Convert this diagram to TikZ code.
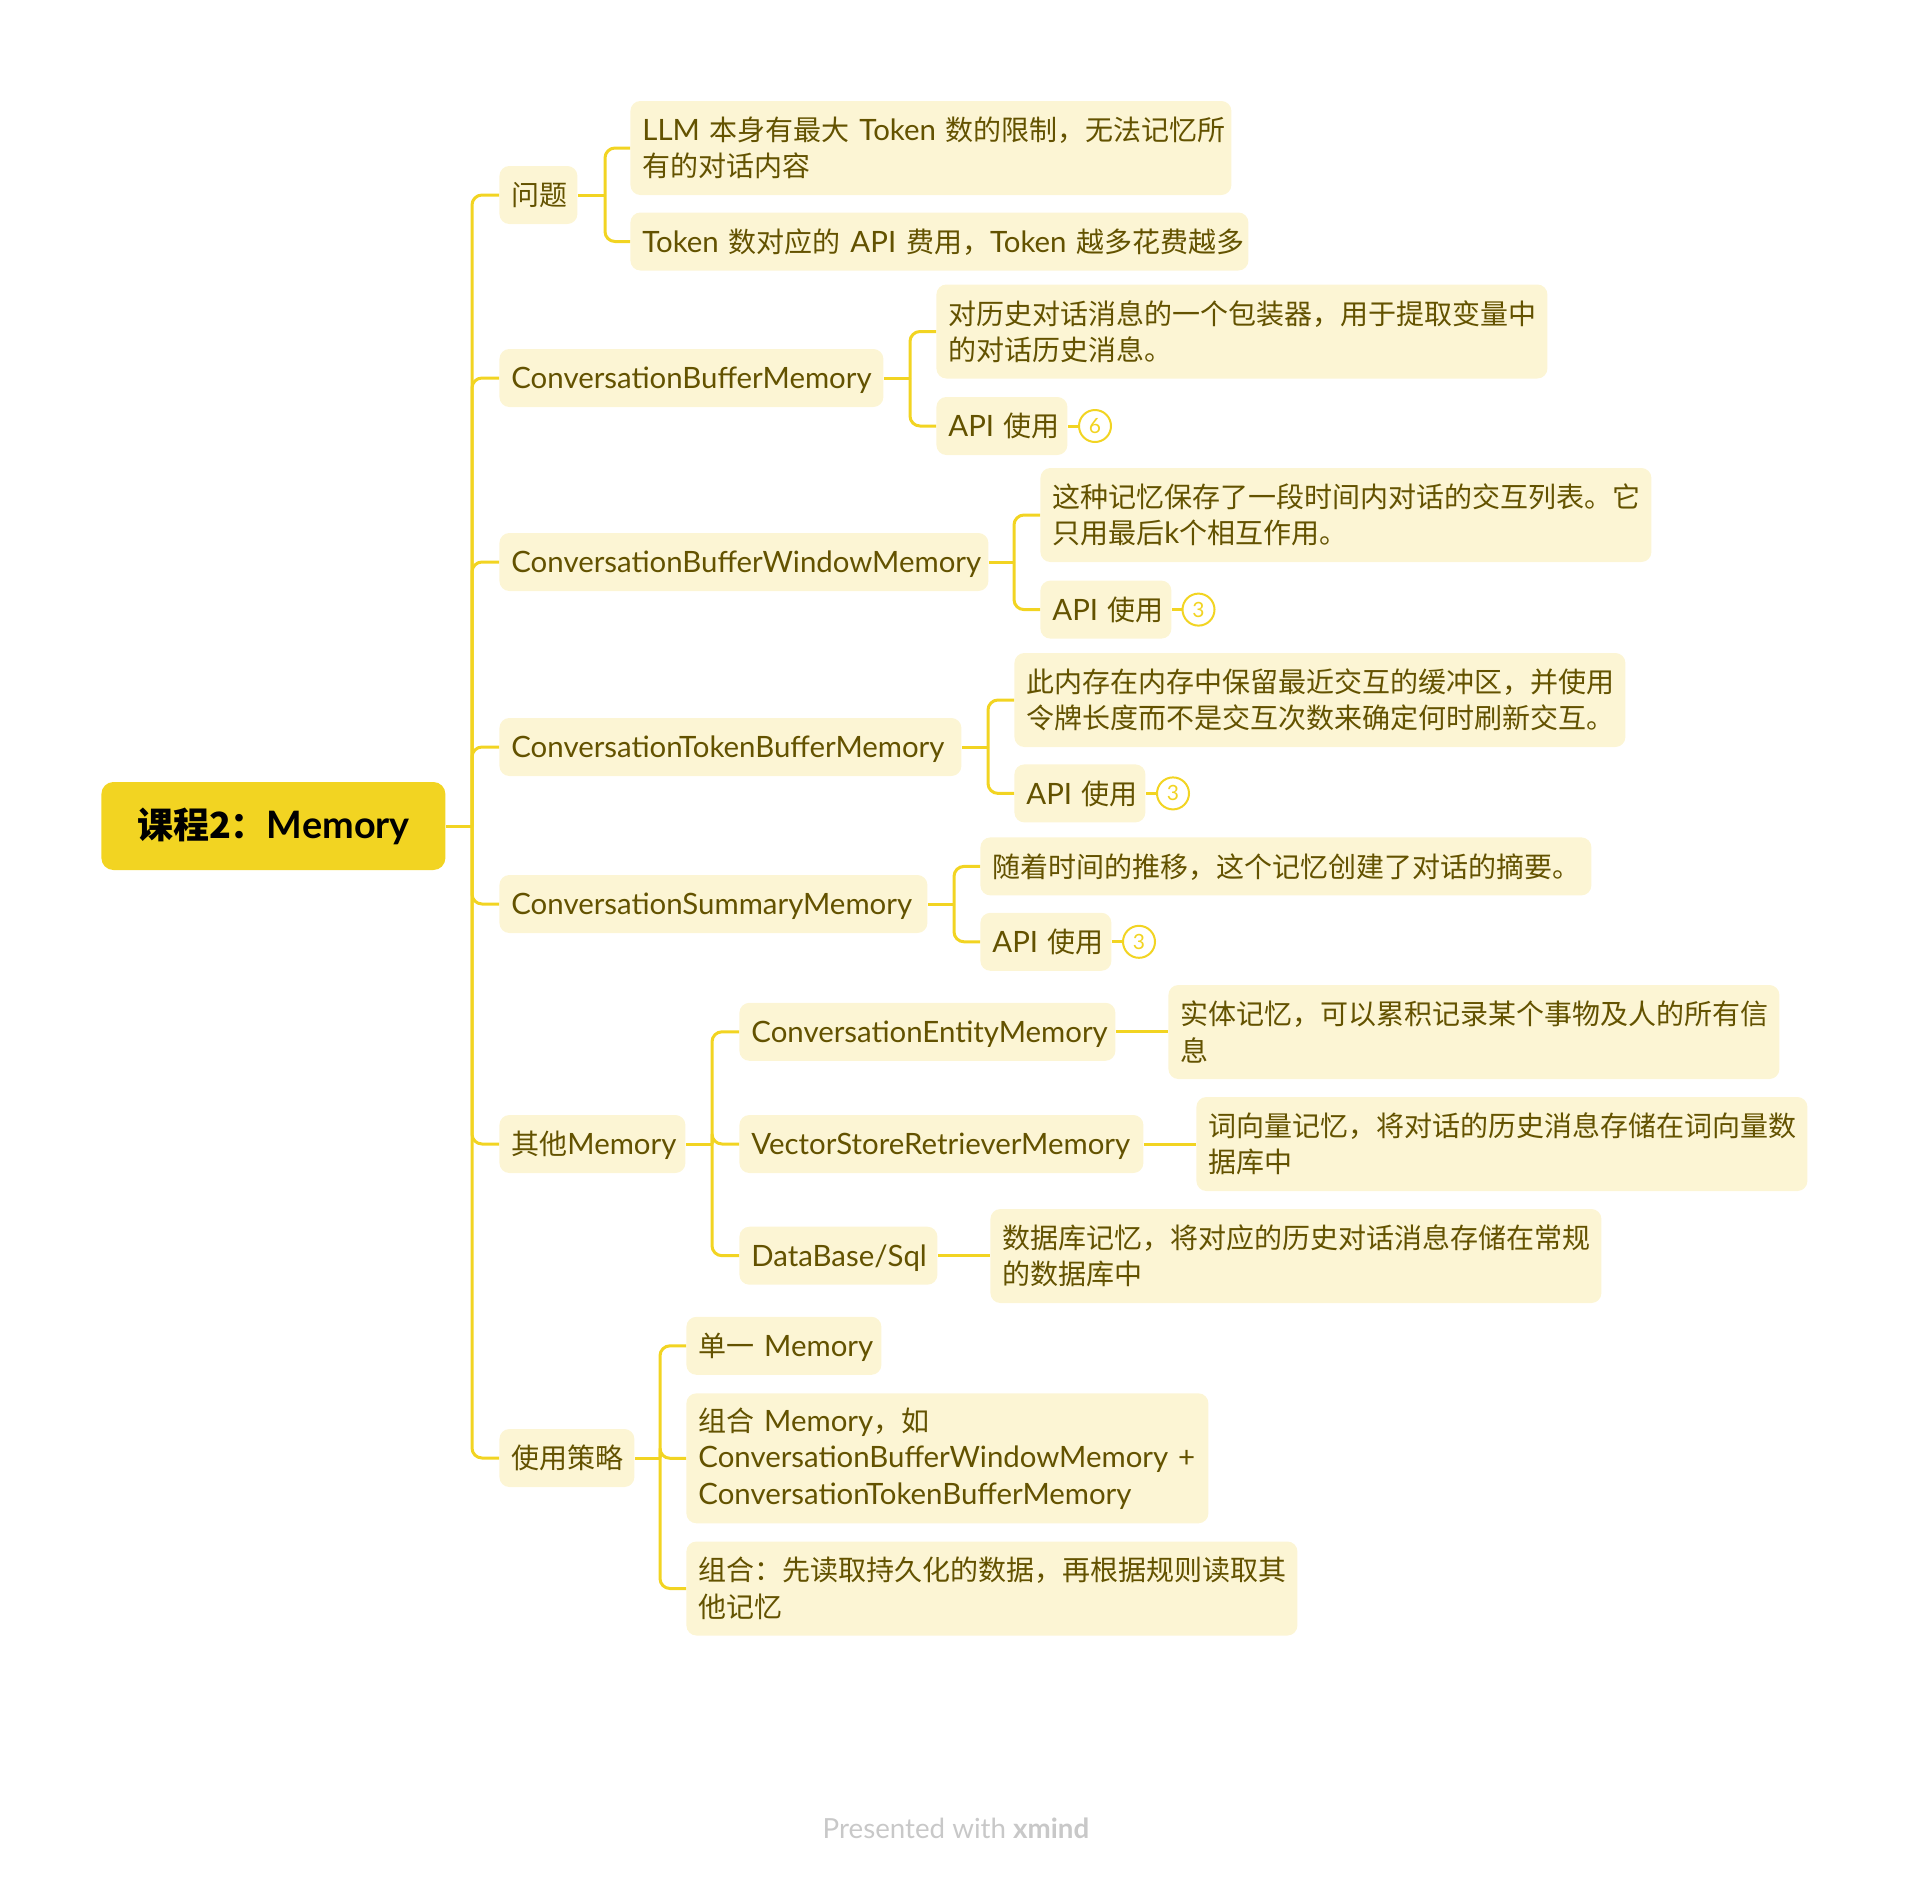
\documentclass[tikz,border=0pt]{standalone}
\usepackage{fontspec}
\setmainfont{Lato}[Scale=1.05]
\newfontfamily\cjk{Noto Sans CJK SC}
\newcommand\zh[1]{{\cjk #1}}
\definecolor{boxfill}{RGB}{252,245,212}
\definecolor{txt}{RGB}{99,82,0}
\definecolor{line}{RGB}{242,212,34}
\definecolor{rootfill}{RGB}{242,212,34}
\definecolor{footgray}{RGB}{200,200,200}
\begin{document}
\begin{tikzpicture}[x=0.5pt,y=-0.5pt,
 base/.style={fill=boxfill, rounded corners=5pt, anchor=west, text=txt, font=\fontsize{14}{18.25}\selectfont, inner xsep=6pt, inner ysep=0pt, align=left},
 box/.style={base, minimum width=#1, text width=#1-12pt, minimum height=29pt, text height=12.3pt, text depth=1.7pt},
 mbox/.style={base, minimum width=#1, text width=#1-12pt, minimum height=47pt},
 conn/.style={draw=line, line width=1.5pt, rounded corners=5pt},
 badge/.style={circle, draw=line, line width=1pt, fill=white, text=line, minimum size=16pt, inner sep=0pt, font=\fontsize{10}{10}\selectfont},
]
\useasboundingbox (0,0) rectangle (1908,1876);
% root
\node[fill=rootfill, rounded corners=6pt, anchor=west, minimum width=172pt, minimum height=44pt, font=\fontsize{18}{20}\selectfont\bfseries, text=black] (root) at (101,826) {{\cjk\bfseries 课程2：}Memory};
% level 1
\node[box=39pt] (q) at (499,195) {\mbox{\zh{问题}}};
\node[box=192pt] (cbm) at (499,378) {\mbox{ConversationBufferMemory}};
\node[box=244.5pt] (cbwm) at (499,562) {\mbox{ConversationBufferWindowMemory}};
\node[box=231pt] (ctbm) at (499,747) {\mbox{ConversationTokenBufferMemory}};
\node[box=214pt] (csm) at (499,904) {\mbox{ConversationSummaryMemory}};
\node[box=93pt] (other) at (499,1144) {\mbox{\zh{其他}Memory}};
\node[box=67.5pt] (strat) at (499,1458) {\mbox{\zh{使用策略}}};
% trunk
\coordinate (bt) at (472,826);
\draw[conn] (root.east) -- (bt);
\foreach \n in {q,cbm,cbwm,ctbm,csm,other,strat} \draw[conn] (bt) |- (\n.west);
% 问题
\node[mbox=300.5pt] (q1) at (630,148) {\mbox{LLM \zh{本身有最大} Token \zh{数的限制，无法记忆所}}\\\zh{有的对话内容}};
\node[box=309pt] (q2) at (630,241.5) {\mbox{Token \zh{数对应的} API \zh{费用，}Token \zh{越多花费越多}}};
\coordinate (bq) at (605,195);
\draw[conn] (q.east) -- (bq);
\draw[conn] (bq) |- (q1.west);
\draw[conn] (bq) |- (q2.west);
% CBM
\node[mbox=305.5pt] (cbm1) at (936,331.5) {\zh{对历史对话消息的一个包装器，用于提取变量中}\\\zh{的对话历史消息。}};
\node[box=65.5pt] (cbm2) at (936,426) {\mbox{API \zh{使用}}};
\node[badge] (cbmb) at (1095,426) {6};
\coordinate (bc1) at (910,378);
\draw[conn] (cbm.east) -- (bc1);
\draw[conn] (bc1) |- (cbm1.west);
\draw[conn] (bc1) |- (cbm2.west);
\draw[conn] (cbm2.east) -- (cbmb.west);
% CBWM
\node[mbox=305.5pt] (cbwm1) at (1040,515) {\zh{这种记忆保存了一段时间内对话的交互列表。它}\\\mbox{\zh{只用最后}k\zh{个相互作用。}}};
\node[box=65.5pt] (cbwm2) at (1040,609.6) {\mbox{API \zh{使用}}};
\node[badge] (cbwmb) at (1198.5,609.6) {3};
\coordinate (bc2) at (1014,562);
\draw[conn] (cbwm.east) -- (bc2);
\draw[conn] (bc2) |- (cbwm1.west);
\draw[conn] (bc2) |- (cbwm2.west);
\draw[conn] (cbwm2.east) -- (cbwmb.west);
% CTBM
\node[mbox=305.5pt] (ctbm1) at (1014,700) {\zh{此内存在内存中保留最近交互的缓冲区，并使用}\\\zh{令牌长度而不是交互次数来确定何时刷新交互。}};
\node[box=65.5pt] (ctbm2) at (1014,793.4) {\mbox{API \zh{使用}}};
\node[badge] (ctbmb) at (1173,793.4) {3};
\coordinate (bc3) at (988,747);
\draw[conn] (ctbm.east) -- (bc3);
\draw[conn] (bc3) |- (ctbm1.west);
\draw[conn] (bc3) |- (ctbm2.west);
\draw[conn] (ctbm2.east) -- (ctbmb.west);
% CSM
\node[box=305.5pt] (csm1) at (980,866.4) {\mbox{\zh{随着时间的推移，这个记忆创建了对话的摘要。}}};
\node[box=65.5pt] (csm2) at (980,941.8) {\mbox{API \zh{使用}}};
\node[badge] (csmb) at (1139,941.8) {3};
\coordinate (bc4) at (954,904);
\draw[conn] (csm.east) -- (bc4);
\draw[conn] (bc4) |- (csm1.west);
\draw[conn] (bc4) |- (csm2.west);
\draw[conn] (csm2.east) -- (csmb.west);
% other
\node[box=188pt] (oe) at (739,1031.8) {\mbox{ConversationEntityMemory}};
\node[box=202pt] (ov) at (739,1144) {\mbox{VectorStoreRetrieverMemory}};
\node[box=99pt] (od) at (739,1255.7) {\mbox{DataBase/Sql}};
\coordinate (bo) at (712,1144);
\draw[conn] (other.east) -- (bo);
\draw[conn] (bo) |- (oe.west);
\draw[conn] (bo) |- (ov.west);
\draw[conn] (bo) |- (od.west);
\node[mbox=305.5pt] (oe1) at (1168,1032) {\zh{实体记忆，可以累积记录某个事物及人的所有信}\\\zh{息}};
\node[mbox=305.5pt] (ov1) at (1196,1144) {\zh{词向量记忆，将对话的历史消息存储在词向量数}\\\zh{据库中}};
\node[mbox=305.5pt] (od1) at (990,1256) {\zh{数据库记忆，将对应的历史对话消息存储在常规}\\\zh{的数据库中}};
\draw[conn] (oe.east) -- (oe1.west |- oe.east);
\draw[conn] (ov.east) -- (ov1.west |- ov.east);
\draw[conn] (od.east) -- (od1.west |- od.east);
% strategy
\node[box=97.5pt] (s1) at (686,1345.8) {\mbox{\zh{单一} Memory}};
\node[mbox=261pt, minimum height=65pt] (s2) at (686,1458.3) {\mbox{\zh{组合} Memory\zh{，如}}\\\mbox{ConversationBufferWindowMemory +}\\\mbox{ConversationTokenBufferMemory}};
\node[mbox=305.5pt] (s3) at (686,1588.5) {\zh{组合：先读取持久化的数据，再根据规则读取其}\\\zh{他记忆}};
\coordinate (bs) at (660,1458);
\draw[conn] (strat.east) -- (bs);
\draw[conn] (bs) |- (s1.west);
\draw[conn] (bs) |- (s2.west);
\draw[conn] (bs) |- (s3.west);
% footer
\node[text=footgray, font=\fontsize{13.2}{15}\selectfont] (foot) at (956,1828) {Presented with \textbf{xmind}};
\end{tikzpicture}
\end{document}
